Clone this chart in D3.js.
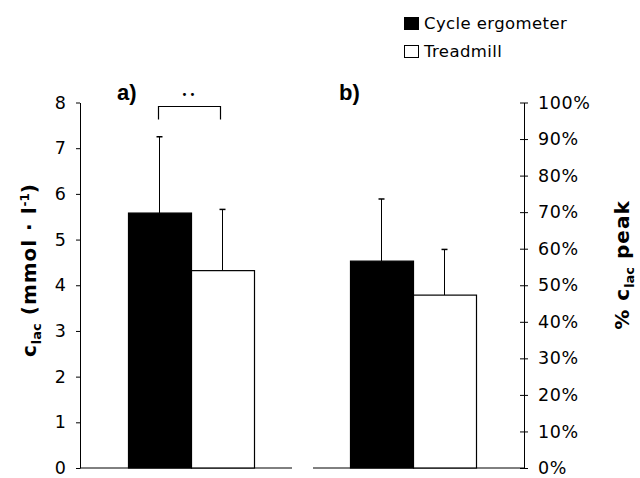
<!DOCTYPE html>
<html>
<head>
<meta charset="utf-8">
<script src="https://cdn.jsdelivr.net/npm/d3@7"></script>
<style>
  body { margin: 0; background: #fff; }
  svg { display: block; }
  text { font-family: "DejaVu Sans", Verdana, sans-serif; fill: #000; }
</style>
</head>
<body>
<div id="chart-area"></div>
<script>
// data
var categories = ["Cycle ergometer", "Treadmill"];
var panels = ["a)", "b)"];
// panel a: c_lac in mmol/l (mean and +SD)
var lacMean = [5.58, 4.32];
var lacSd = [1.67, 1.34];
// panel b: fraction of peak c_lac
var pctMean = [0.566, 0.473];
var pctSd = [0.170, 0.125];
var lacTicks = [0, 1, 2, 3, 4, 5, 6, 7, 8];
var pctTicks = [0, 0.1, 0.2, 0.3, 0.4, 0.5, 0.6, 0.7, 0.8, 0.9, 1.0];
var colors = ["#000", "#fff"];

var width = 640, height = 478;

var svg = d3.select("#chart-area").append("svg")
    .attr("width", width)
    .attr("height", height);

var plotTop = 102.5, plotBottom = 468;
var leftX = 80, rightX = 524;

var panelScale = d3.scaleBand()
    .domain(panels)
    .range([leftX, rightX]);

var yLac = d3.scaleLinear().domain([0, 8]).range([plotBottom, plotTop]);
var yPct = d3.scaleLinear().domain([0, 1]).range([plotBottom, plotTop]);

function innerScale(p) {
    var c = panelScale(p) + panelScale.bandwidth() / 2;
    return d3.scaleBand().domain(categories).range([c - 63, c + 63]);
}

// left axis
var axisL = svg.append("g")
    .attr("transform", "translate(" + leftX + ",0)")
    .call(d3.axisLeft(yLac).tickValues(lacTicks).tickSizeInner(4).tickSizeOuter(0).tickPadding(10));
axisL.selectAll("text").style("font-size", "17.5px").style("font-family", "'DejaVu Sans', Verdana, sans-serif");

// right axis (ticks cross the line)
var axisR = svg.append("g")
    .attr("transform", "translate(" + rightX + ",0)")
    .call(d3.axisRight(yPct).tickValues(pctTicks).tickFormat(d3.format(".0%"))
        .tickSizeInner(4).tickSizeOuter(0).tickPadding(10));
axisR.selectAll(".tick line").attr("x1", -4);
axisR.selectAll("text").style("font-size", "17.5px").style("font-family", "'DejaVu Sans', Verdana, sans-serif")
    .style("letter-spacing", "0.6px");

// baselines
svg.append("line").attr("x1", leftX).attr("x2", panelScale("a)") + panelScale.bandwidth() - 10)
    .attr("y1", plotBottom).attr("y2", plotBottom).attr("stroke", "#000");
svg.append("line").attr("x1", panelScale("b)") + 11).attr("x2", rightX)
    .attr("y1", plotBottom).attr("y2", plotBottom).attr("stroke", "#000");

function drawPanel(p, means, sds, y) {
    var x = innerScale(p);
    var g = svg.append("g");
    var rows = categories.map(function (c, i) { return { cat: c, mean: means[i], sd: sds[i], i: i }; });

    // error bars (upper only)
    g.selectAll(".err")
        .data(rows)
        .enter()
        .append("line")
        .attr("x1", function (d) { return x(d.cat) + x.bandwidth() / 2; })
        .attr("x2", function (d) { return x(d.cat) + x.bandwidth() / 2; })
        .attr("y1", function (d) { return y(d.mean); })
        .attr("y2", function (d) { return y(d.mean + d.sd); })
        .attr("stroke", "#000");
    g.selectAll(".cap")
        .data(rows)
        .enter()
        .append("line")
        .attr("x1", function (d) { return x(d.cat) + x.bandwidth() / 2 - 3; })
        .attr("x2", function (d) { return x(d.cat) + x.bandwidth() / 2 + 3; })
        .attr("y1", function (d) { return y(d.mean + d.sd); })
        .attr("y2", function (d) { return y(d.mean + d.sd); })
        .attr("stroke", "#000")
        .attr("stroke-width", 1.5);

    g.selectAll(".bar")
        .data(rows)
        .enter()
        .append("rect")
        .attr("x", function (d) { return x(d.cat) + 0.5; })
        .attr("y", function (d) { return y(d.mean); })
        .attr("width", x.bandwidth())
        .attr("height", function (d) { return y(0) - y(d.mean); })
        .attr("fill", function (d) { return colors[d.i]; })
        .attr("stroke", "#000")
        .attr("stroke-width", 1.2);

    svg.append("text")
        .text(p)
        .attr("x", x(categories[0]) - 11)
        .attr("y", 100)
        .style("font-family", "'Liberation Sans', Arial, sans-serif")
        .style("font-weight", "bold")
        .style("font-size", "22px");
    return x;
}

var xa = drawPanel("a)", lacMean, lacSd, yLac);
drawPanel("b)", pctMean, pctSd, yPct);

// significance bracket between a) bars
var bx1 = xa(categories[0]) + xa.bandwidth() / 2 - 1;
var bx2 = xa(categories[1]) + xa.bandwidth() / 2 - 2;
svg.append("path")
    .attr("d", "M" + bx1 + ",119.5V106.5H" + bx2 + "V119.5")
    .attr("fill", "none")
    .attr("stroke", "#000")
    .attr("stroke-width", 1.2);
svg.append("text")
    .text("••")
    .attr("x", (bx1 + bx2) / 2)
    .attr("y", 98)
    .attr("text-anchor", "middle")
    .style("font-size", "10px")
    .style("letter-spacing", "2px");

// axis titles
var tL = svg.append("text")
    .attr("transform", "translate(36,270) rotate(-90)")
    .attr("text-anchor", "middle")
    .style("font-weight", "bold")
    .style("font-size", "20px")
    .style("letter-spacing", "1px");
tL.append("tspan").text("c");
tL.append("tspan").text("lac").attr("dy", 5).style("font-size", "13px").style("letter-spacing", "0px");
tL.append("tspan").text(" (mmol · l").attr("dy", -5);
tL.append("tspan").text("-1").attr("dy", -7).style("font-size", "12px").style("letter-spacing", "0px");
tL.append("tspan").text(")").attr("dy", 7);

var tR = svg.append("text")
    .attr("transform", "translate(629,265) rotate(-90)")
    .attr("text-anchor", "middle")
    .style("font-weight", "bold")
    .style("font-size", "20px")
    .style("letter-spacing", "1px");
tR.append("tspan").text("% c");
tR.append("tspan").text("lac").attr("dy", 5).style("font-size", "13px").style("letter-spacing", "0px");
tR.append("tspan").text(" peak").attr("dy", -5);

// legend
var legend = svg.selectAll(".legend")
    .data(categories)
    .enter()
    .append("g")
    .attr("transform", function (d, i) { return "translate(404," + (17 + i * 28) + ")"; });
legend.append("rect")
    .attr("x", 0.5).attr("y", 0.5)
    .attr("width", 14).attr("height", 12)
    .attr("fill", function (d, i) { return colors[i]; })
    .attr("stroke", "#000");
legend.append("text")
    .text(function (d) { return d; })
    .attr("x", 20)
    .attr("y", 12)
    .style("font-size", "16.5px")
    .style("letter-spacing", "0.4px");
</script>
</body>
</html>
